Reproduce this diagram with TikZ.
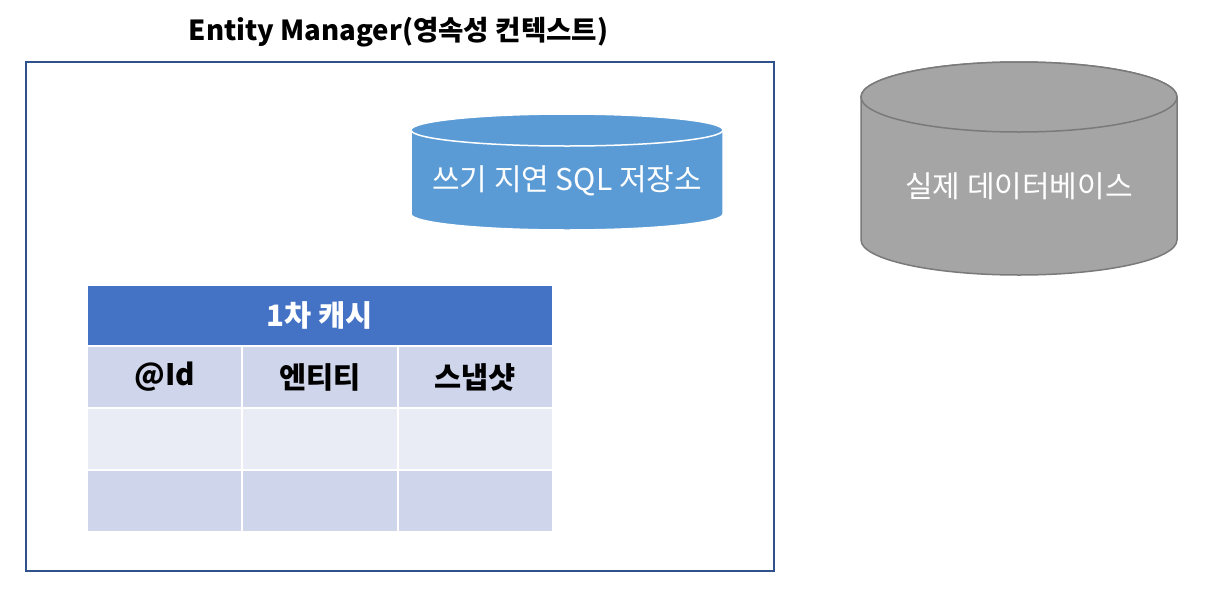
\documentclass[tikz,border=0pt]{standalone}
\usepackage{fontspec}
\setmainfont{Noto Sans CJK KR}
\definecolor{boxblue}{HTML}{2F528F}
\definecolor{cylblue}{HTML}{5B9BD5}
\definecolor{cylgray}{HTML}{A5A5A5}
\definecolor{cylgrayline}{HTML}{7A7A7A}
\definecolor{hdrblue}{HTML}{4472C4}
\definecolor{rowdark}{HTML}{CFD5EA}
\definecolor{rowlight}{HTML}{E9EBF5}
\tikzset{
  cell/.style={draw=white, line width=2pt, minimum width=155.33pt, minimum height=62pt, inner sep=0pt, anchor=north west, font=\fontsize{29.5}{32}\selectfont\bfseries},
  celldark/.style={cell, fill=rowdark},
  celllight/.style={cell, fill=rowlight},
  cyltext/.style={text=white, font=\fontsize{30}{34}\selectfont},
}
\begin{document}
\begin{tikzpicture}[x=1pt,y=-1pt]
\useasboundingbox (0,0) rectangle (1211,600);
% title
\node[font=\fontsize{27.6}{31}\selectfont\bfseries] (title) at (398.5,32) {Entity Manager(영속성 컨텍스트)};
% outer box
\node[draw=boxblue, line width=1.5pt, minimum width=748pt, minimum height=509pt, inner sep=0pt, anchor=north west] (em) at (25,61) {};
% write-behind SQL store cylinder
\draw[fill=cylblue, draw=white, line width=1.5pt] (411,130) -- (411,214) arc[start angle=180, end angle=360, x radius=156pt, y radius=16pt] -- (723,130) arc[start angle=0, end angle=180, x radius=156pt, y radius=16pt] -- cycle;
\draw[fill=cylblue, draw=white, line width=1.5pt] (567,130) ellipse[x radius=156pt, y radius=16pt];
\node[cyltext] (sql) at (567,181) {쓰기 지연 SQL 저장소};
% database cylinder
\draw[fill=cylgray, draw=cylgrayline, line width=1.5pt] (861,97) -- (861,240) arc[start angle=180, end angle=360, x radius=158pt, y radius=35pt] -- (1177,97) arc[start angle=0, end angle=180, x radius=158pt, y radius=35pt] -- cycle;
\draw[fill=cylgray, draw=cylgrayline, line width=1.5pt] (1019,97) ellipse[x radius=158pt, y radius=35pt];
\node[cyltext] (db) at (1019,186) {실제 데이터베이스};
% first-level cache table
\node[cell, fill=hdrblue, minimum width=466pt, minimum height=61pt, text=white] (hdr) at (86,284) {1차 캐시};
\node[celldark] (c11) at (86,345) {@Id};
\node[celldark] (c12) at (241.33,345) {엔티티};
\node[celldark] (c13) at (396.67,345) {스냅샷};
\node[celllight] (c21) at (86,407) {};
\node[celllight] (c22) at (241.33,407) {};
\node[celllight] (c23) at (396.67,407) {};
\node[celldark] (c31) at (86,469) {};
\node[celldark] (c32) at (241.33,469) {};
\node[celldark] (c33) at (396.67,469) {};
\end{tikzpicture}
\end{document}
